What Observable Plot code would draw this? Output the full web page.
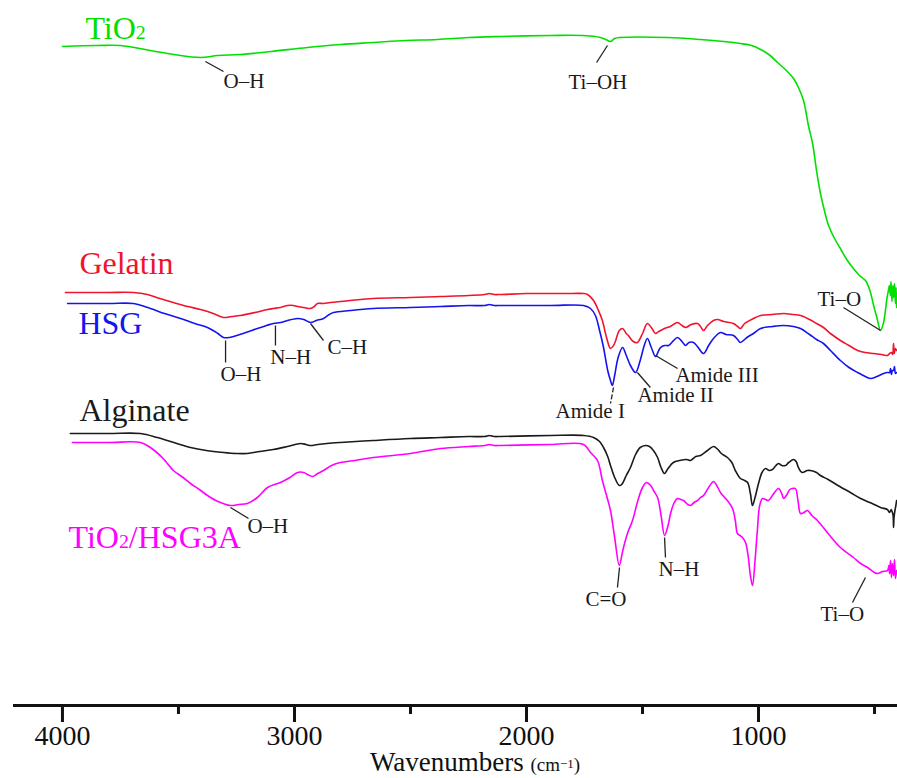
<!DOCTYPE html>
<html><head><meta charset="utf-8">
<script src="https://cdn.jsdelivr.net/npm/d3@7"></script>
<script src="https://cdn.jsdelivr.net/npm/@observablehq/plot@0.6"></script>
<style>
html,body{margin:0;padding:0;background:#fff;}
#chart svg{display:block;}
</style>
</head><body><div id="chart"></div>
<script>
// ---- data: [wavenumber (cm-1), offset transmittance (a.u.)] ----
const tio2 = [[4000,659],[3850,660],[3750,660],[3621,655],[3520,651],[3405,648],[3330,650],[3233,651],[3100,654],[2944,658],[2800,661],[2660,663],[2520,665],[2384,666],[2250,668],[2112,669],[1897,670],[1754,670],[1681,668],[1650,665],[1638,664],[1620,667],[1595,668],[1392,668],[1250,666],[1150,664],[1078,662],[1030,660],[991,656],[950,650],[918,643],[880,635],[849,627],[828,618],[806,605],[785,580],[767,562],[750,535],[733,512],[715,494],[698,480],[670,466],[647,457],[620,446],[591,437],[565,430],[539,425],[520,415],[504,400],[490,388],[474,375],[462,382],[453,395],[446,408],[440,415],[436,420],[432,410],[429,424],[425,404],[421,420],[418,408],[414,422],[410,402],[407,418],[405,398]];
const gelatin = [[3987,413],[3800,413],[3694,413],[3634,411],[3580,407],[3522,403],[3460,399],[3405,396],[3350,392],[3306,388],[3270,389],[3233,390],[3170,393],[3116,396],[3091,397],[3060,398],[3030,400],[3005,400],[2987,399],[2960,398],[2931,397],[2915,399],[2901,402],[2875,402],[2845,403],[2760,405],[2660,407],[2500,408],[2371,409],[2250,410],[2180,411],[2160,412],[2140,411],[2112,411],[2000,412],[1897,412],[1800,412],[1754,412],[1737,411],[1711,405],[1690,395],[1673,385],[1655,368],[1638,357],[1625,360],[1617,364],[1600,375],[1586,377],[1570,372],[1561,370],[1540,364],[1522,363],[1500,372],[1479,382],[1462,378],[1444,372],[1430,374],[1405,377],[1380,379],[1349,383],[1330,380],[1314,378],[1290,381],[1263,382],[1250,379],[1237,375],[1220,380],[1194,385],[1177,386],[1150,384],[1108,382],[1090,379],[1078,377],[1060,382],[1022,387],[991,390],[940,391],[892,392],[850,391],[819,390],[780,386],[750,382],[720,378],[690,372],[647,365],[610,360],[573,355],[540,353],[504,352],[470,351],[444,350],[435,352],[427,353],[422,351],[418,362],[415,352],[410,357],[405,355]];
const hsg = [[3978,402],[3800,402],[3694,402],[3621,397],[3560,392],[3491,387],[3430,382],[3375,378],[3330,372],[3306,368],[3280,368],[3263,369],[3210,373],[3160,377],[3120,380],[3091,382],[3060,383],[3030,385],[2987,387],[2960,386],[2931,383],[2905,385],[2875,387],[2850,391],[2832,393],[2760,395],[2660,397],[2500,398],[2371,399],[2250,400],[2180,400],[2160,401],[2140,400],[2112,400],[1897,400],[1754,400],[1724,397],[1703,390],[1685,375],[1668,358],[1650,335],[1638,325],[1630,320],[1620,330],[1605,348],[1586,358],[1570,350],[1552,340],[1530,333],[1510,345],[1495,358],[1479,367],[1462,358],[1444,349],[1430,355],[1422,358],[1405,360],[1388,360],[1370,364],[1349,368],[1330,364],[1314,360],[1300,363],[1280,363],[1260,358],[1237,352],[1215,360],[1194,367],[1164,373],[1140,371],[1108,370],[1090,366],[1078,363],[1050,368],[1022,372],[991,377],[940,379],[892,380],[850,379],[819,377],[780,371],[750,366],[720,362],[690,355],[647,345],[610,338],[573,333],[540,329],[517,327],[490,329],[461,332],[445,333],[435,333],[431,337],[427,331],[423,335],[418,335],[414,339],[410,332],[405,333]];
const alginate = [[3966,272],[3800,272],[3664,272],[3591,268],[3520,263],[3448,258],[3380,255],[3306,253],[3250,252],[3203,252],[3150,254],[3091,256],[3030,259],[2974,262],[2950,261],[2931,260],[2900,261],[2860,262],[2802,263],[2660,265],[2500,267],[2371,268],[2250,269],[2180,269],[2160,270],[2140,269],[2112,269],[1897,270],[1754,270],[1711,268],[1685,264],[1668,258],[1650,249],[1638,240],[1620,228],[1600,220],[1590,221],[1570,230],[1552,238],[1530,251],[1510,258],[1487,260],[1470,259],[1453,255],[1435,248],[1420,238],[1405,232],[1390,237],[1367,243],[1340,245],[1310,246],[1293,245],[1270,249],[1250,250],[1220,255],[1194,259],[1175,256],[1160,252],[1134,248],[1115,243],[1100,235],[1078,227],[1060,225],[1047,223],[1035,212],[1026,200],[1015,208],[1000,222],[985,233],[970,237],[955,235],[940,236],[925,240],[914,242],[900,240],[884,240],[870,243],[849,246],[838,244],[828,238],[818,234],[810,233],[790,235],[776,235],[750,233],[733,230],[700,226],[650,219],[604,213],[560,207],[520,203],[474,198],[445,196],[435,193],[428,196],[423,193],[420,190],[418,178],[416,188],[412,195],[408,200],[405,205]];
const composite = [[3957,263],[3800,263],[3664,263],[3621,258],[3570,248],[3522,235],[3480,228],[3448,222],[3410,216],[3375,210],[3330,204],[3276,200],[3240,201],[3203,202],[3160,208],[3116,218],[3060,223],[3020,228],[2987,233],[2960,233],[2944,231],[2922,229],[2900,232],[2875,235],[2840,240],[2802,243],[2740,245],[2660,248],[2500,252],[2371,257],[2250,259],[2180,260],[2160,261],[2140,260],[2112,260],[1897,261],[1754,261],[1724,253],[1694,245],[1673,225],[1655,210],[1638,195],[1620,168],[1600,140],[1585,155],[1565,172],[1543,185],[1520,205],[1500,218],[1483,223],[1465,220],[1450,214],[1435,208],[1420,190],[1405,170],[1390,180],[1379,192],[1365,202],[1349,207],[1335,206],[1323,205],[1305,201],[1293,200],[1278,203],[1263,205],[1250,208],[1237,210],[1215,218],[1194,224],[1180,220],[1164,213],[1150,209],[1134,205],[1112,197],[1100,185],[1091,172],[1080,170],[1069,168],[1056,163],[1045,150],[1035,130],[1026,120],[1015,145],[1005,175],[995,200],[983,207],[970,206],[957,205],[940,210],[914,217],[900,212],[892,207],[880,210],[865,216],[853,217],[841,217],[830,205],[819,192],[805,193],[789,195],[770,190],[746,185],[700,172],[647,158],[591,148],[560,142],[530,138],[500,133],[487,132],[465,134],[444,135],[438,140],[435,132],[431,145],[427,128],[423,142],[418,130],[414,146],[410,127],[405,135]];

const seriesNames = ["TiO2", "Gelatin", "HSG", "Alginate", "TiO2/HSG3A"];
const seriesColors = ["#00e000", "#f0142d", "#1414f0", "#1a1a1a", "#ff00ff"];
const seriesData = [tio2, gelatin, hsg, alginate, composite];

const majorTicks = [4000, 3000, 2000, 1000];
const minorTicks = [3500, 2500, 1500, 500];

// series name labels: [wavenumber, level, name]
const seriesLabels = [[3901, 667, "TiO2"], [3927, 432, "Gelatin"], [3931, 372, "HSG"], [3927, 285, "Alginate"], [3974, 158, "TiO2/HSG3A"]];

// band annotations: text position and leader line
const bandLabels = [
  {text: "O–H", x: 3306, y: 618, x1: 3384, y1: 644, x2: 3306, y2: 634},
  {text: "Ti–OH", x: 1819, y: 617, x1: 1651, y1: 660, x2: 1698, y2: 643},
  {text: "Ti–O", x: 746, y: 400, x1: 634, y1: 398, x2: 474, y2: 375},
  {text: "O–H", x: 3319, y: 325, x1: 3297, y1: 365, x2: 3297, y2: 343},
  {text: "N–H", x: 3104, y: 342, x1: 3082, y1: 380, x2: 3082, y2: 360},
  {text: "C–H", x: 2858, y: 352, x1: 2931, y1: 382, x2: 2875, y2: 365},
  {text: "Amide I", x: 1875, y: 288, x1: 1625, y1: 318, x2: 1638, y2: 302, dash: true},
  {text: "Amide II", x: 1522, y: 304, x1: 1522, y1: 333, x2: 1466, y2: 318},
  {text: "Amide III", x: 1358, y: 324, x1: 1444, y1: 350, x2: 1349, y2: 337},
  {text: "O–H", x: 3203, y: 173, x1: 3276, y1: 198, x2: 3198, y2: 187},
  {text: "C=O", x: 1746, y: 100, x1: 1599, y1: 138, x2: 1608, y2: 118},
  {text: "N–H", x: 1431, y: 130, x1: 1405, y1: 168, x2: 1401, y2: 148},
  {text: "Ti–O", x: 733, y: 85, x1: 539, y1: 128, x2: 595, y2: 103}
];

const rows = seriesData.flatMap((pts, i) => pts.map(([w, t]) => ({series: seriesNames[i], w, t})));
const labelRows = seriesLabels.map(([w, t, name]) => ({w, t, name}));
const serif = "Liberation Serif, Times New Roman, DejaVu Serif, serif";

const chart = Plot.plot({
  width: 897, height: 778,
  marginTop: 0, marginBottom: 73, marginLeft: 13, marginRight: 0,
  style: {fontFamily: serif, background: "#fff", color: "#111"},
  x: {domain: [4211, 401]},
  y: {domain: [0, 705], axis: null},
  color: {domain: seriesNames, range: seriesColors},
  marks: [
    Plot.ruleY([0], {stroke: "#111", strokeWidth: 3}),
    Plot.axisX(majorTicks, {tickSize: 17, tickPadding: 3, strokeWidth: 3, fontSize: 28, fontFamily: serif, fill: "#111", tickFormat: d => String(d), label: null}),
    Plot.axisX(minorTicks, {tickSize: 9, strokeWidth: 3, tickFormat: () => "", label: null}),
    Plot.line(rows, {x: "w", y: "t", z: "series", stroke: "series", strokeWidth: 1.6, curve: "catmull-rom"}),
    Plot.link(bandLabels.filter(d => !d.dash), {x1: "x1", y1: "y1", x2: "x2", y2: "y2", stroke: "#222", strokeWidth: 1.3}),
    Plot.link(bandLabels.filter(d => d.dash), {x1: "x1", y1: "y1", x2: "x2", y2: "y2", stroke: "#222", strokeWidth: 1.3, strokeDasharray: "5,2"}),
    Plot.text(bandLabels, {x: "x", y: "y", text: "text", textAnchor: "start", lineAnchor: "bottom", fontSize: 21, fontFamily: serif, fill: "#1a1a1a"}),
    Plot.text(labelRows, {x: "w", y: "t", text: "name", fill: "name", textAnchor: "start", lineAnchor: "bottom", fontSize: 32, fontFamily: serif})
  ]
});

// subscripts in TiO2
d3.select(chart).selectAll("text").each(function () {
  const t = this.textContent;
  if (t.startsWith("TiO2")) {
    const rest = t.slice(4);
    const el = d3.select(this);
    el.text(null);
    el.append("tspan").text("TiO");
    el.append("tspan").attr("font-size", "0.62em").text("2");
    if (rest) el.append("tspan").text(rest);
  }
});

// axis title
const title = d3.select(chart).append("text")
  .attr("x", 475).attr("y", 771).attr("text-anchor", "middle")
  .attr("font-family", serif).attr("font-size", 27).attr("fill", "#111");
title.append("tspan").text("Wavenumbers ");
title.append("tspan").attr("font-size", 19).text("(cm");
title.append("tspan").attr("font-size", 13).attr("dy", -3).text("−1");
title.append("tspan").attr("font-size", 19).attr("dy", 3).text(")");

document.getElementById("chart").appendChild(chart);
</script>
</body></html>
